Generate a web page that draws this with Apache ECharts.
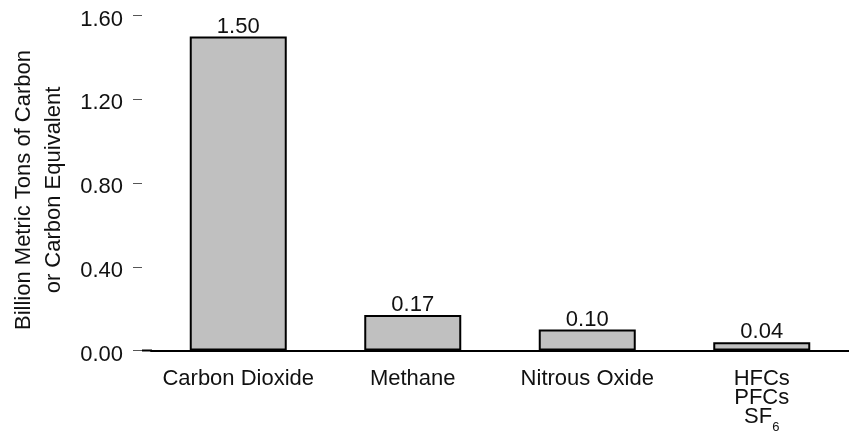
<!DOCTYPE html>
<html>
<head>
<meta charset="utf-8">
<script src="https://cdn.jsdelivr.net/npm/echarts@6/dist/echarts.min.js"></script>
<style>
html,body{margin:0;padding:0;background:#fff;}
#c{width:849px;height:435px;}
</style>
</head>
<body>
<div id="c"></div>
<script>
const categories = ['Carbon Dioxide', 'Methane', 'Nitrous Oxide', 'HFCs\nPFCs\nSF6'];
const values = [1.50, 0.17, 0.10, 0.04];
const yTicks = { min: 0, max: 1.6, interval: 0.4 };
const yName = 'Billion Metric Tons of Carbon\nor Carbon Equivalent';

const FONT = 'Liberation Sans, Arial, sans-serif';
const chart = echarts.init(document.getElementById('c'), null, { renderer: 'canvas' });
chart.setOption({
  animation: false,
  backgroundColor: '#fff',
  grid: { left: 151, right: -2, top: 15.5, bottom: 84.5, containLabel: false },
  xAxis: {
    type: 'category',
    data: categories,
    axisLine: { show: true, lineStyle: { color: '#000', width: 2 } },
    axisTick: { show: false },
    axisLabel: {
      color: '#111', fontFamily: FONT, fontSize: 22, lineHeight: 19, margin: 19, interval: 0,
      formatter: function (v) { return v.replace('SF6', 'SF{sub|6}'); },
      rich: { sub: { fontFamily: FONT, fontSize: 13, color: '#111', lineHeight: 19, padding: [20, 0, 0, 0] } }
    }
  },
  yAxis: {
    type: 'value',
    min: yTicks.min, max: yTicks.max, interval: yTicks.interval,
    offset: 9,
    name: yName,
    nameLocation: 'middle',
    nameRotate: 90,
    nameGap: 72,
    nameTextStyle: { color: '#111', fontFamily: FONT, fontSize: 22, lineHeight: 30, padding: [0, 14, 0, 0] },
    axisLine: { show: false },
    axisTick: { show: true, length: 9, lineStyle: { color: '#555', width: 1 } },
    splitLine: { show: false },
    axisLabel: {
      color: '#111', fontFamily: FONT, fontSize: 22, margin: 19,
      formatter: function (v) { return '{v|' + v.toFixed(2) + '}'; },
      rich: { v: { fontFamily: FONT, fontSize: 22, color: '#111', padding: [8, 0, 0, 0] } }
    }
  },
  series: [{
    type: 'bar',
    data: values,
    barWidth: 97,
    itemStyle: { color: '#c0c0c0', borderColor: '#000', borderWidth: 2 },
    label: {
      show: true, position: 'top', distance: -1,
      color: '#111', fontFamily: FONT, fontSize: 22,
      formatter: function (p) { return p.value.toFixed(2); }
    }
  }]
});
// extend baseline left to the y-axis tick position
const y0 = chart.convertToPixel({ yAxisIndex: 0 }, 0);
chart.setOption({
  graphic: [{ type: 'line', shape: { x1: 142, y1: y0, x2: 152, y2: y0 }, style: { stroke: '#000', lineWidth: 2 }, silent: true }]
});
</script>
</body>
</html>
